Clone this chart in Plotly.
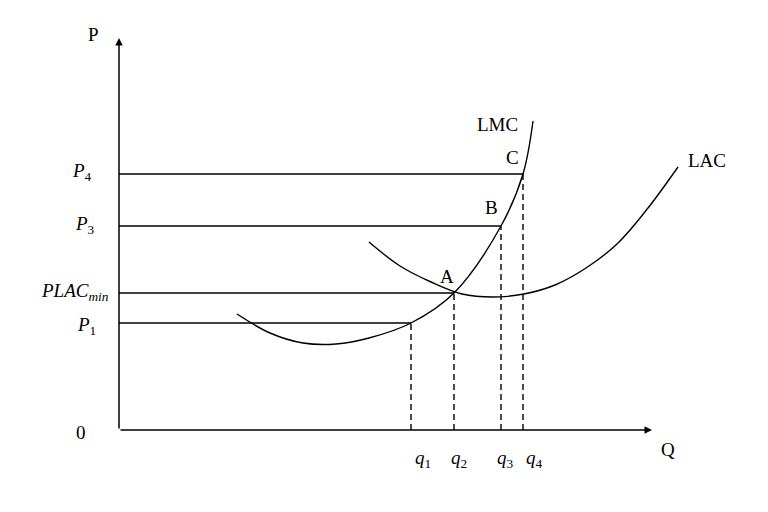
import plotly.graph_objects as go

# ---- data (units: Q, P) ----
q_vals = [29.2, 33.5, 38.2, 40.4]
p_vals = [10.7, 13.7, 20.4, 25.6]
q_labels = ["<i>q</i><sub>1</sub>", "<i>q</i><sub>2</sub>", "<i>q</i><sub>3</sub>", "<i>q</i><sub>4</sub>"]
q_label_x = [30.4, 34.0, 38.6, 41.5]
q_label_y = -2.9
p_labels = ["<i>P</i><sub>1</sub>", "<i>PLAC</i><sub><i>min</i></sub>", "<i>P</i><sub>3</sub>", "<i>P</i><sub>4</sub>"]
p_label_pos = [(-3.3, 10.4), (-4.4, 13.8), (-3.4, 20.5), (-3.7, 25.8)]

lmc_q = [11.8, 15.1, 18.4, 21.7, 25.0, 29.2, 33.5, 38.2, 40.4, 41.4]
lmc_p = [11.6, 9.7, 8.7, 8.6, 9.2, 10.7, 13.7, 20.4, 25.6, 30.9]

lac_q = [25.0, 28.1, 31.2, 34.3, 37.4, 40.5, 43.6, 46.7, 49.8, 52.9, 55.9]
lac_p = [18.8, 16.4, 14.8, 13.6, 13.3, 13.6, 14.5, 16.2, 18.6, 22.2, 26.3]

point_labels = ["A", "B", "C"]
point_label_pos = [(32.8, 15.4), (37.2, 22.3), (39.3, 27.3)]

x_axis_end = 53.3
y_axis_end = 39.2

serif = "Liberation Serif, Times New Roman, serif"
fs = 19

fig = go.Figure()

line_style = dict(color="black", width=1.4)

fig.add_trace(go.Scatter(x=lmc_q, y=lmc_p, mode="lines",
                         line=dict(color="black", width=1.4, shape="spline", smoothing=1.0),
                         hoverinfo="skip"))
fig.add_trace(go.Scatter(x=lac_q, y=lac_p, mode="lines",
                         line=dict(color="black", width=1.4, shape="spline", smoothing=1.0),
                         hoverinfo="skip"))

# horizontal price lines and dashed quantity drops
for q, p in zip(q_vals, p_vals):
    fig.add_trace(go.Scatter(x=[0, q], y=[p, p], mode="lines",
                             line=line_style, hoverinfo="skip"))
    fig.add_trace(go.Scatter(x=[q, q], y=[0, p], mode="lines",
                             line=dict(color="black", width=1.4, dash="6px,4px"),
                             hoverinfo="skip"))

annotations = []
# axes with arrows
annotations.append(dict(x=x_axis_end, y=0, ax=0, ay=0, xref="x", yref="y",
                        axref="x", ayref="y", showarrow=True, text="",
                        arrowhead=2, arrowsize=1, arrowwidth=1.5, arrowcolor="black"))
annotations.append(dict(x=0, y=y_axis_end, ax=0, ay=0, xref="x", yref="y",
                        axref="x", ayref="y", showarrow=True, text="",
                        arrowhead=2, arrowsize=1, arrowwidth=1.5, arrowcolor="black"))

def txt(x, y, t):
    annotations.append(dict(x=x, y=y, xref="x", yref="y", text=t,
                            showarrow=False, font=dict(family=serif, size=fs, color="black"),
                            xanchor="center", yanchor="middle"))

txt(-2.55, 39.6, "P")
txt(-3.8, -0.2, "0")
txt(54.9, -1.9, "Q")
txt(37.8, 30.6, "LMC")
txt(58.8, 27.0, "LAC")
for lab, (x, y) in zip(point_labels, point_label_pos):
    txt(x, y, lab)
for lab, (x, y) in zip(p_labels, p_label_pos):
    txt(x, y, lab)
for lab, x in zip(q_labels, q_label_x):
    txt(x, q_label_y, lab)

# page body has an 8px margin, so ranges are offset to keep the origin in place
fig.update_layout(
    width=768, height=512,
    margin=dict(l=0, r=0, t=0, b=0),
    paper_bgcolor="white", plot_bgcolor="white",
    showlegend=False,
    xaxis=dict(range=[-11.1, 65.7], visible=False, fixedrange=True),
    yaxis=dict(range=[-9.0, 42.2], visible=False, fixedrange=True),
    annotations=annotations,
)

fig.write_html("out.html")
